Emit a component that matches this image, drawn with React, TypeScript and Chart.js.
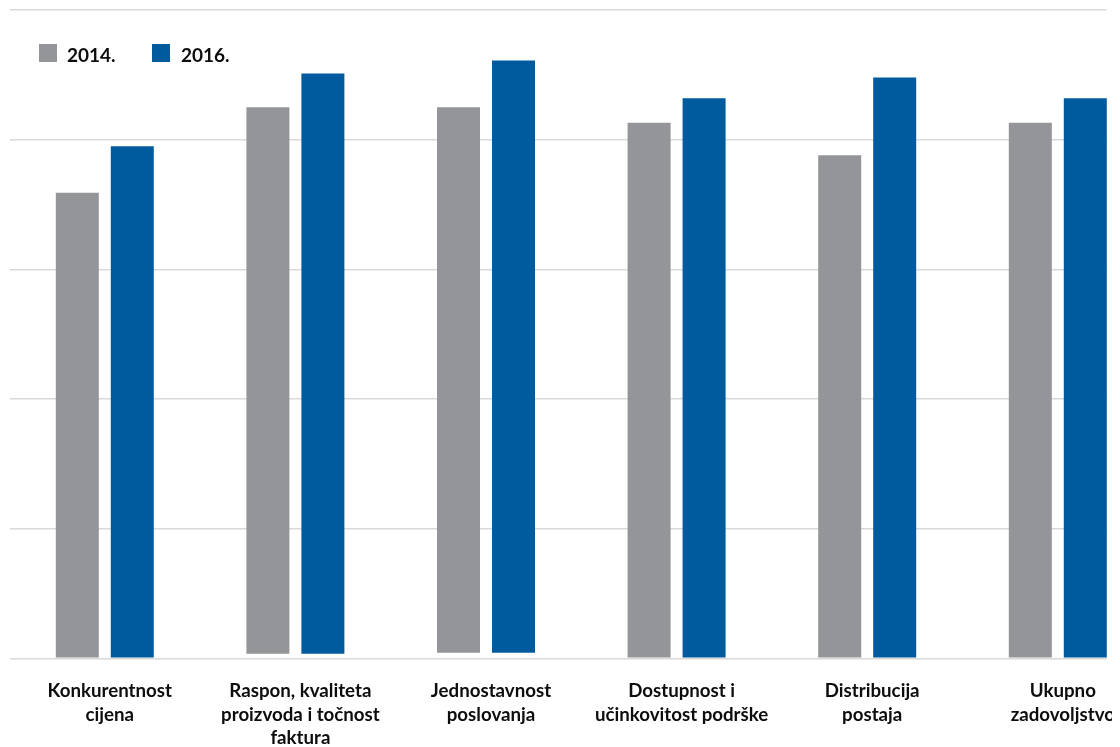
import React, { useEffect, useRef } from "react";
import { Chart, registerables } from "chart.js";

Chart.register(...registerables);

const categories: string[][] = [
  ["Konkurentnost", "cijena"],
  ["Raspon, kvaliteta", "proizvoda i točnost", "faktura"],
  ["Jednostavnost", "poslovanja"],
  ["Dostupnost i", "učinkovitost podrške"],
  ["Distribucija", "postaja"],
  ["Ukupno", "zadovoljstvo"],
];
const seriesNames = ["2014.", "2016."];
const values2014 = [3.59, 4.25, 4.25, 4.13, 3.88, 4.13];
const values2016 = [3.95, 4.51, 4.61, 4.32, 4.48, 4.32];
const barBase = [0, 0.035, 0.043, 0, 0, 0];
const yMin = 0;
const yMax = 5;
const yStep = 1;

const COLORS = ["#939598", "#005A9E"];
const FONT = "Lato, 'Open Sans', sans-serif";

const clipGrid = {
  id: "clipGrid",
  beforeDraw(chart: any) {
    const ctx = chart.ctx;
    ctx.save();
    ctx.beginPath();
    ctx.rect(0, 0, 1098.5, chart.height);
    ctx.clip();
  },
  beforeDatasetsDraw(chart: any) {
    chart.ctx.restore();
  },
};

export default function App() {
  const ref = useRef<HTMLCanvasElement | null>(null);

  useEffect(() => {
    if (!ref.current) return;
    const series = [values2014, values2016];
    const chart = new Chart(ref.current, {
      type: "bar",
      data: {
        labels: categories,
        datasets: series.map((vals, i) => ({
          label: seriesNames[i],
          data: vals.map((v, j) => [barBase[j], v]) as any,
          backgroundColor: COLORS[i],
          borderWidth: 0,
          categoryPercentage: 0.577,
          barPercentage: 0.782,
        })),
      },
      options: {
        animation: false,
        responsive: true,
        maintainAspectRatio: false,
        layout: { padding: { left: 1.5, right: 4.9, top: 2, bottom: 0 } },
        plugins: {
          legend: { display: false },
          tooltip: { enabled: false },
        },
        scales: {
          x: {
            grid: { display: false, drawTicks: false },
            border: { display: false },
            afterFit: (scale: any) => {
              scale.height = 88.7;
            },
            ticks: {
              z: 1,
              color: "#0d0d0d",
              font: { family: FONT, size: 18.7, weight: "bold", lineHeight: "23.5px" },
              padding: 21,
              labelOffset: 5,
              maxRotation: 0,
              minRotation: 0,
              autoSkip: false,
            },
          },
          y: {
            min: yMin,
            max: yMax,
            ticks: { display: false, stepSize: yStep },
            grid: { color: "#d9d9d9", lineWidth: 1.5, drawTicks: false },
            border: { display: false },
          },
        },
      },
      plugins: [clipGrid],
    });
    return () => chart.destroy();
  }, []);

  const legendItem = (i: number, sqLeft: number, txtLeft: number) => (
    <React.Fragment key={i}>
      <div
        style={{
          position: "absolute",
          left: sqLeft,
          top: 36,
          width: 18,
          height: 18,
          background: COLORS[i],
        }}
      />
      <span
        style={{
          position: "absolute",
          left: txtLeft,
          top: 35.25,
          fontFamily: FONT,
          fontWeight: 700,
          fontSize: 19,
          lineHeight: "normal",
          color: "#0d0d0d",
          whiteSpace: "nowrap",
        }}
      >
        {seriesNames[i]}
      </span>
    </React.Fragment>
  );

  return (
    <div style={{ position: "relative", width: 1112, height: 739, overflow: "hidden" }}>
      <div style={{ position: "absolute", left: 0, top: 0, width: 1150, height: 739 }}>
        <canvas ref={ref} />
      </div>
      {legendItem(0, 31, 59)}
      {legendItem(1, 144, 173)}
    </div>
  );
}
